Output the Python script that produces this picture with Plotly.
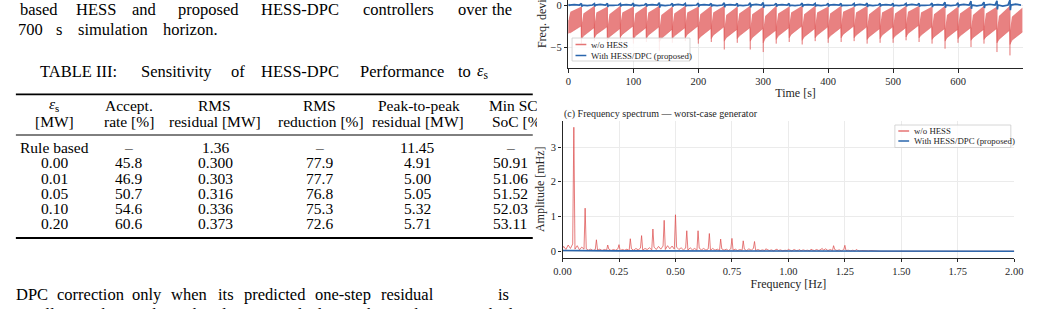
import numpy as np
import plotly.graph_objects as go

W, H = 1039, 309
FONT = "Liberation Serif"
INK = "#262626"
RED = "rgba(224,92,92,0.85)"
RED_FILL = "rgba(229,112,112,0.88)"
RED_SPEC = "rgba(222,80,80,0.75)"
BLUE = "#2a66ad"

# ---------------- panel (b): frequency deviation vs time ----------------
cycle_start = [0, 20, 40, 60, 80, 100, 120, 140, 160, 180, 200, 220, 240, 260, 280, 300, 320, 340,
               360, 380, 400, 420, 440, 460, 480, 500, 520, 540, 560, 580, 600, 620, 640, 660, 680]
dip_min = [-3.4, -4.6, -4.3, -4.8, -4.2, -4.6, -4.4, -5.5, -4.5, -4.3, -4.6, -4.4, -5.3, -4.5, -5.3,
           -5.6, -4.6, -4.4, -4.7, -4.3, -4.5, -4.4, -4.3, -4.6, -4.5, -4.5, -4.2, -4.4, -4.6, -5.2,
           -4.5, -5.0, -4.6, -5.6, -6.0]
up_start = [-1.8, -2.6, -2.4, -2.8, -2.3, -2.7, -2.5, -3.0, -2.6, -2.4, -2.7, -2.5, -2.9, -2.6, -2.9,
            -3.0, -2.6, -2.4, -2.7, -2.5, -2.6, -2.4, -2.5, -2.7, -2.5, -2.6, -2.3, -2.5, -2.7, -2.9,
            -2.6, -2.8, -2.6, -3.0, -3.1]
up_mid = [-0.8, -1.0, -0.9, -1.1, -0.9, -1.0, -0.9, -1.2, -1.0, -0.9, -1.1, -0.9, -1.2, -1.0, -1.1,
          -1.3, -1.0, -0.9, -1.1, -0.9, -1.0, -0.8, -0.9, -1.1, -0.9, -1.0, -0.8, -0.9, -1.1, -1.2,
          -1.0, -1.2, -1.0, -1.3, -1.4]
up_end = [-0.2, -0.1, -0.2, -0.1, -0.2, -0.1, -0.1, -0.2, -0.1, -0.2, -0.1, -0.1, -0.2, -0.1, -0.2,
          -0.1, -0.2, -0.1, -0.1, -0.2, -0.1, -0.2, -0.1, -0.1, -0.2, -0.1, -0.1, -0.2, -0.1, -0.2,
          -0.1, -0.1, -0.2, -0.1, -0.3]
lo_start = [-3.3, -4.1, -3.9, -4.2, -3.8, -4.1, -4.0, -4.4, -4.0, -3.9, -4.1, -4.0, -4.3, -4.0, -4.3,
            -4.5, -4.1, -3.9, -4.2, -3.9, -4.0, -3.9, -3.9, -4.1, -4.0, -4.0, -3.8, -3.9, -4.1, -4.3,
            -4.0, -4.2, -4.1, -4.5, -4.7]
lo_mid = [-3.3, -3.7, -3.5, -3.8, -3.5, -3.7, -3.6, -4.0, -3.7, -3.5, -3.8, -3.6, -3.9, -3.7, -3.9,
          -4.0, -3.7, -3.5, -3.8, -3.6, -3.7, -3.5, -3.6, -3.8, -3.6, -3.7, -3.4, -3.6, -3.8, -3.9,
          -3.7, -3.9, -3.8, -4.1, -4.2]
lo_end = [-2.5, -2.7, -2.6, -2.8, -2.5, -2.7, -2.6, -2.9, -2.7, -2.5, -2.8, -2.6, -2.9, -2.7, -2.8,
          -3.0, -2.7, -2.5, -2.8, -2.6, -2.7, -2.5, -2.6, -2.8, -2.6, -2.7, -2.4, -2.6, -2.8, -2.9,
          -2.7, -2.9, -2.8, -3.0, -3.2]
blue_hi = [0.12, 0.18, 0.15, 0.20, 0.16, 0.22, 0.18, 0.28, 0.20, 0.17, 0.22, 0.18, 0.26, 0.20, 0.27,
           0.30, 0.20, 0.18, 0.22, 0.17, 0.20, 0.18, 0.17, 0.22, 0.19, 0.20, 0.17, 0.20, 0.24, 0.32,
           0.26, 0.45, 0.35, 0.50, 0.60]
blue_lo = [-0.10, -0.20, -0.16, -0.22, -0.15, -0.20, -0.18, -0.30, -0.20, -0.16, -0.22, -0.18, -0.27,
           -0.20, -0.28, -0.32, -0.20, -0.17, -0.22, -0.18, -0.20, -0.17, -0.18, -0.22, -0.18, -0.20,
           -0.16, -0.20, -0.25, -0.33, -0.27, -0.45, -0.36, -0.52, -0.62]
blue_mid = [0.05, -0.06, 0.07, -0.05, 0.06, -0.07, 0.05, -0.06, 0.08, -0.05, 0.06, -0.07, 0.05, -0.06,
            0.07, -0.05, 0.06, -0.06, 0.05, -0.07, 0.06, -0.05, 0.07, -0.06, 0.05, -0.06, 0.07, -0.05,
            0.06, -0.08, 0.07, -0.10, 0.09, -0.12, 0.10]
STEP_MID, STEP_LEN = 3.0, 19.5

# ---------------- panel (c): amplitude spectrum ----------------
floor_amp = [
    0.14, 0.05, 0.18, 0.08, 0.21, 0.06, 0.16, 0.04, 0.12, 0.06,
    0.07, 0.03, 0.06, 0.02, 0.05, 0.03, 0.06, 0.02, 0.05, 0.03,
    0.06, 0.02, 0.05, 0.03, 0.07, 0.02, 0.05, 0.03, 0.06, 0.02,
    0.07, 0.03, 0.08, 0.04, 0.09, 0.03, 0.08, 0.05, 0.10, 0.04,
    0.12, 0.05, 0.14, 0.06, 0.15, 0.05, 0.16, 0.07, 0.15, 0.06,
    0.12, 0.05, 0.10, 0.04, 0.09, 0.03, 0.10, 0.04, 0.08, 0.03,
    0.09, 0.04, 0.08, 0.03, 0.07, 0.03, 0.08, 0.03, 0.06, 0.02,
    0.07, 0.03, 0.06, 0.02, 0.07, 0.03, 0.06, 0.02, 0.05, 0.03,
    0.06, 0.02, 0.07, 0.03, 0.08, 0.02, 0.05, 0.02, 0.04, 0.02,
    0.05, 0.02, 0.04, 0.01, 0.05, 0.02, 0.04, 0.01, 0.03, 0.02,
    0.04, 0.01, 0.05, 0.02, 0.03, 0.01, 0.04, 0.02, 0.03, 0.01,
    0.04, 0.02, 0.05, 0.02, 0.06, 0.03, 0.07, 0.02, 0.05, 0.02,
    0.05, 0.02, 0.04, 0.01, 0.05, 0.02, 0.03, 0.01, 0.03, 0.01,
    0.03, 0.01, 0.02, 0.01, 0.02, 0.01, 0.02, 0.01, 0.01, 0.01, 0.0]
floor_freq = np.round(np.arange(len(floor_amp)) * 0.01 + 0.005, 3)
edge_freq = [0.0, 1.45, 2.0]
edge_amp = [0.08, 0.0, 0.0]
peak_freq = [0.05, 0.10, 0.15, 0.20, 0.25, 0.30, 0.35, 0.40, 0.45, 0.50, 0.55, 0.60, 0.65,
             0.70, 0.75, 0.80, 0.85, 0.90, 0.95, 1.00, 1.05, 1.10, 1.15, 1.20, 1.25, 1.30]
peak_amp = [3.57, 1.24, 0.33, 0.18, 0.19, 0.36, 0.45, 0.64, 0.89, 1.05, 0.59, 0.59, 0.51,
            0.35, 0.37, 0.30, 0.28, 0.07, 0.06, 0.06, 0.05, 0.06, 0.08, 0.16, 0.17, 0.05]
blue_spec_amp = [0.02, 0.015, 0.012, 0.01, 0.012, 0.01, 0.012, 0.01, 0.015, 0.02, 0.018,
                 0.012, 0.01, 0.008, 0.01, 0.008, 0.007, 0.006, 0.006, 0.005, 0.005,
                 0.005, 0.005, 0.004, 0.004, 0.004, 0.003, 0.003, 0.003, 0.003, 0.003,
                 0.002, 0.002, 0.002, 0.002, 0.002, 0.002, 0.002, 0.002, 0.002, 0.002]
blue_spec_freq = np.round(np.arange(len(blue_spec_amp)) * 0.05, 3)

# ---------------- Table III ----------------
eps_labels = ["Rule based", "0.00", "0.01", "0.05", "0.10", "0.20"]
accept_rate = ["–", "45.8", "46.9", "50.7", "54.6", "60.6"]
rms_residual = ["1.36", "0.300", "0.303", "0.316", "0.336", "0.373"]
rms_reduction = ["–", "77.9", "77.7", "76.8", "75.3", "72.6"]
p2p_residual = ["11.45", "4.91", "5.00", "5.05", "5.32", "5.71"]
min_sc_soc = ["–", "50.91", "51.06", "51.52", "52.03", "53.11"]

# ---------- build panel (b) traces ----------
t_up, v_up, t_lo, v_lo, spk_t, spk_v = [], [], [], [], [], []
b_t, b_v = [], []
for k, t0 in enumerate(cycle_start):
    t_end = t0 + STEP_LEN
    t_up += [t0, t0 + STEP_MID, t_end]
    v_up += [up_start[k], up_mid[k], up_end[k]]
    t_lo += [t0, t0 + STEP_MID, t_end]
    v_lo += [lo_start[k], lo_mid[k], lo_end[k]]
    top = up_end[k - 1] if k > 0 else up_start[k]
    spk_t += [t0, t0, None]
    spk_v += [top, dip_min[k], None]
    b_t += [t0, t0 + 0.6, t0 + 1.5, t0 + 9.0, t0 + 17.0]
    b_v += [blue_hi[k], blue_lo[k], 0.0, blue_mid[k], 0.0]

fig = go.Figure()
fig.add_trace(go.Scatter(x=t_up, y=v_up, mode="lines", line=dict(width=0, color=RED),
                         hoverinfo="skip", showlegend=False, xaxis="x", yaxis="y"))
fig.add_trace(go.Scatter(x=t_lo, y=v_lo, mode="lines", line=dict(width=0.6, color=RED),
                         fill="tonexty", fillcolor=RED_FILL, name="w/o HESS",
                         showlegend=False, xaxis="x", yaxis="y"))
fig.add_trace(go.Scatter(x=spk_t, y=spk_v, mode="lines", line=dict(width=1.0, color=RED),
                         showlegend=False, xaxis="x", yaxis="y"))
fig.add_trace(go.Scatter(x=b_t, y=b_v, mode="lines", line=dict(width=1.7, color=BLUE),
                         name="With HESS/DPC (proposed)", showlegend=False, xaxis="x", yaxis="y"))

# ---------- build panel (c) traces ----------
pts = list(zip(floor_freq.tolist(), floor_amp)) + list(zip(edge_freq, edge_amp)) + list(zip(peak_freq, peak_amp))
pts.sort(key=lambda p: p[0])
fig.add_trace(go.Scatter(x=[p[0] for p in pts], y=[p[1] for p in pts], mode="lines",
                         line=dict(width=1.0, color=RED_SPEC), name="w/o HESS",
                         showlegend=False, xaxis="x2", yaxis="y2"))
fig.add_trace(go.Scatter(x=blue_spec_freq, y=blue_spec_amp, mode="lines",
                         line=dict(width=1.6, color=BLUE), name="With HESS/DPC (proposed)",
                         showlegend=False, xaxis="x2", yaxis="y2"))

# ---------- axes ----------
def px(x):
    return x / W

def py(y):
    return 1 - y / H

tickfont = dict(family=FONT, size=10.5, color=INK)
axc = dict(showline=True, linecolor=INK, linewidth=1.1, ticks="outside", ticklen=3.5,
           tickwidth=1, tickcolor=INK, showgrid=True, gridcolor="#ebebeb", gridwidth=0.8,
           zeroline=False, tickfont=tickfont, mirror=False, ticklabeloverflow="allow")

fig.update_layout(
    width=W, height=H, margin=dict(l=0, r=0, t=0, b=0),
    paper_bgcolor="white", plot_bgcolor="white", showlegend=False,
    xaxis=dict(axc, domain=[px(569.3), px(1031.5)], range=[0, 699.5], dtick=100, tick0=0,
               anchor="y", title=dict(text="Time [s]", font=dict(family=FONT, size=12, color=INK), standoff=2)),
    yaxis=dict(axc, domain=[py(68), 1.0], range=[-7.5, 0.6], dtick=5, tick0=0, anchor="x"),
    xaxis2=dict(axc, domain=[px(563.3), px(1023)], range=[0, 2], dtick=0.25, tick0=0,
                tickformat=".2f", anchor="y2",
                title=dict(text="Frequency [Hz]", font=dict(family=FONT, size=12, color=INK), standoff=3)),
    yaxis2=dict(axc, domain=[py(257.5), py(121)], range=[-0.18, 3.75], dtick=1, tick0=0,
                anchor="x2",
                title=dict(text="Amplitude [mHz]", font=dict(family=FONT, size=12, color=INK), standoff=3)),
)

# ---------- text / annotations ----------
ann = []
shapes = []
BODY = 16.5
TAB = 15.5

def T(x, y, s, size=BODY, xa="center", ya="middle", **kw):
    d = dict(x=px(x), y=py(y), xref="paper", yref="paper", text=s, showarrow=False,
             xanchor=xa, yanchor=ya, font=dict(family=FONT, size=size, color="black"))
    d.update(kw)
    ann.append(d)

def words(y, items, size=BODY):
    for s, x in items:
        T(x, y, s, size)

words(10, [("based", 31), ("HESS", 89), ("and", 138), ("proposed", 203), ("HESS-DPC", 296),
           ("controllers", 396), ("over", 472), ("the", 502)])
words(29, [("700", 22), ("s", 51), ("simulation", 106), ("horizon.", 185)])
words(71, [("TABLE III:", 71), ("Sensitivity", 170), ("of", 233), ("HESS-DPC", 296),
           ("Performance", 400), ("to", 464), ("<i>ε</i><sub>s</sub>", 482)])
words(294, [("DPC", 23), ("correction", 83), ("only", 140), ("when", 183), ("its", 221),
            ("predicted", 271), ("one-step", 340), ("residual", 406), ("is", 503)])
words(314, [("smaller", 35), ("than", 104), ("the", 152), ("baseline", 215), ("residual", 293),
            ("within", 364), ("the", 418), ("prescribed", 478)])

# table header
col_x = [46, 122, 210, 316, 416, 510]
words(104.5, [("<i>ε</i><sub>s</sub>", 46)], TAB)
words(106, [("Accept.", 122), ("RMS", 209), ("RMS", 316), ("Peak-to-peak", 417)], TAB)
words(122, [("[MW]", 46), ("rate [%]", 122), ("residual [MW]", 210), ("reduction [%]", 317), ("residual [MW]", 416)], TAB)
T(487, 106, "Min SC", size=TAB, xa="left", width=48, align="left", borderpad=0)
T(490, 122, "SoC [%]", size=TAB, xa="left", width=45, align="left", borderpad=0)
row_y = [147, 163, 178, 193, 208, 223]
for i, y in enumerate(row_y):
    for cx, col in zip(col_x, [eps_labels, accept_rate, rms_residual, rms_reduction, p2p_residual, min_sc_soc]):
        T(cx, y, col[i], size=TAB)

for y, w in [(94.3, 1.8), (135, 1.0), (238, 1.8)]:
    shapes.append(dict(type="line", xref="paper", yref="paper", x0=px(7), x1=px(533),
                       y0=py(y), y1=py(y), line=dict(color="black", width=w)))

# chart annotations
T(543, 50, "Freq. deviation [mHz]", xa="center", ya="bottom", textangle=-90,
  font=dict(family=FONT, size=12, color=INK))
T(563, 114, "(c) Frequency spectrum — worst-case generator", xa="left",
  font=dict(family=FONT, size=10, color=INK))

# manual legends
def legend_box(x0, y0, x1, y1, rows):
    shapes.append(dict(type="rect", xref="paper", yref="paper", x0=px(x0), x1=px(x1),
                       y0=py(y1), y1=py(y0), line=dict(color="#cccccc", width=0.8),
                       fillcolor="rgba(255,255,255,0.85)", layer="above"))
    for (yy, col, label) in rows:
        shapes.append(dict(type="line", xref="paper", yref="paper", x0=px(x0 + 3.5), x1=px(x0 + 14.5),
                           y0=py(yy), y1=py(yy), line=dict(color=col, width=1.5), layer="above"))
        T(x0 + 17.5, yy, label, xa="left", font=dict(family=FONT, size=8.8, color=INK))

legend_box(573, 38, 693, 61, [(44.5, RED, "w/o HESS"), (55.5, BLUE, "With HESS/DPC (proposed)")])
legend_box(901.5, 125, 1019.5, 147.5, [(131, RED, "w/o HESS"), (141, BLUE, "With HESS/DPC (proposed)")])

fig.update_layout(annotations=ann, shapes=shapes)
fig.write_html("out.html")
